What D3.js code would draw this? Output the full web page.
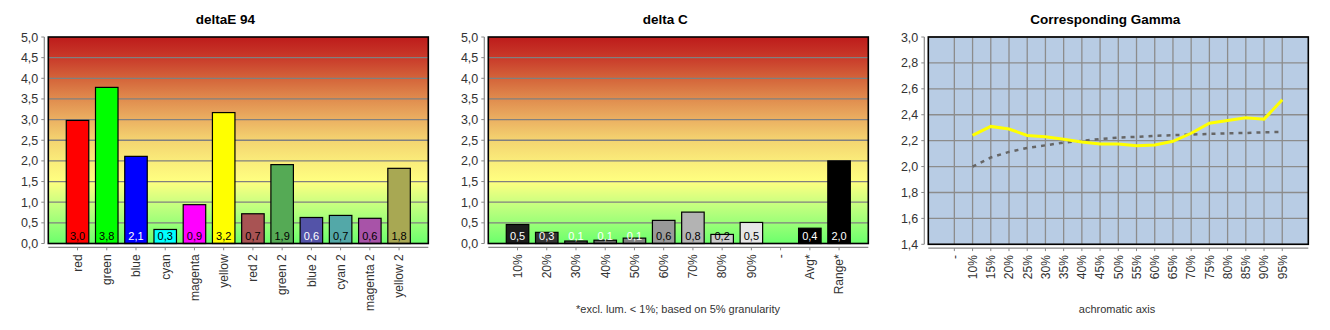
<!DOCTYPE html>
<html><head><meta charset="utf-8">
<script src="https://cdn.jsdelivr.net/npm/d3@7"></script>
<style>
body{margin:0;background:#fff}
text{font-family:"Liberation Sans",Arial,sans-serif}
</style>
</head><body>
<svg id="c" width="1330" height="330"></svg>
<script>
// ---------- data ----------
const deltaETitle = "deltaE 94";
const deltaECategories = ["red","green","blue","cyan","magenta","yellow","red 2","green 2","blue 2","cyan 2","magenta 2","yellow 2"];
const deltaEValues = [2.98, 3.78, 2.11, 0.34, 0.94, 3.17, 0.72, 1.91, 0.63, 0.68, 0.61, 1.82];
const deltaEColors = ["#ff0000","#00ff00","#0000ff","#00ffff","#ff00ff","#ffff00","#a85353","#55aa55","#5353a8","#53a8a8","#a853a8","#a8a853"];
const deltaELabelColors = ["#000","#000","#fff","#000","#000","#000","#000","#000","#fff","#000","#000","#000"];

const deltaCTitle = "delta C";
const deltaCCategories = ["10%","20%","30%","40%","50%","60%","70%","80%","90%","-","Avg*","Range*"];
const deltaCValues = [0.46, 0.27, 0.06, 0.08, 0.13, 0.56, 0.76, 0.22, 0.51, null, 0.37, 2.0];
const deltaCColors = ["#1c1c1c","#333333","#4d4d4d","#666666","#808080","#999999","#b3b3b3","#cccccc","#e6e6e6","#000000","#000000","#000000"];
const deltaCLabelColors = ["#fff","#fff","#fff","#fff","#fff","#000","#000","#000","#000","#fff","#fff","#fff"];
const deltaCNote = "*excl. lum. < 1%; based on 5% granularity";

const barTicks = [0,0.5,1,1.5,2,2.5,3,3.5,4,4.5,5];

const gammaTitle = "Corresponding Gamma";
const gammaCategories = ["-","10%","15%","20%","25%","30%","35%","40%","45%","50%","55%","60%","65%","70%","75%","80%","85%","90%","95%"];
const gammaMeasured = [null, 2.24, 2.31, 2.29, 2.24, 2.23, 2.21, 2.19, 2.175, 2.175, 2.16, 2.167, 2.195, 2.257, 2.334, 2.355, 2.376, 2.366, 2.515];
const gammaTarget = [null, 2.0, 2.07, 2.113, 2.144, 2.164, 2.185, 2.198, 2.213, 2.224, 2.229, 2.237, 2.242, 2.247, 2.252, 2.257, 2.259, 2.265, 2.267];
const gammaTicks = [1.4,1.6,1.8,2.0,2.2,2.4,2.6,2.8,3.0];
const gammaXLabel = "achromatic axis";

// ---------- layout ----------
const svg = d3.select("#c");
const plotTop = 37, plotBottom = 243.5, plotW = 380;
const fmt = v => d3.format(".1f")(v).replace(".", ",");

const defs = svg.append("defs");
const grad = defs.append("linearGradient").attr("id","bg").attr("x1",0).attr("y1",0).attr("x2",0).attr("y2",1);
[[0,"#bd1b1b"],[0.1,"#c93a2a"],[0.2,"#d4643a"],[0.3,"#e08c4e"],[0.4,"#ebb062"],[0.5,"#f4d470"],[0.6,"#faec7a"],[0.7,"#ffff80"],[0.8,"#ccff80"],[0.9,"#9cff78"],[1,"#6cff6c"]]
  .forEach(([o,c]) => grad.append("stop").attr("offset",o).attr("stop-color",c));

function yAxis(g, x0, y, ticks, bot) {
  g.append("line").attr("x1",x0-4).attr("x2",x0-4).attr("y1",plotTop).attr("y2",bot)
    .attr("stroke","#888").attr("stroke-width",1.2);
  ticks.forEach(t => {
    g.append("line").attr("x1",x0-7).attr("x2",x0-4).attr("y1",y(t)).attr("y2",y(t)).attr("stroke","#888");
    g.append("text").attr("x",x0-10).attr("y",y(t)).attr("dy","0.36em").attr("text-anchor","end")
      .attr("font-size",12.5).attr("fill","#333").text(fmt(t));
  });
}
function xAxis(g, x0, x, cats, bot) {
  const ay = bot + 3.8;
  g.append("line").attr("x1",x0).attr("x2",x0+plotW).attr("y1",ay).attr("y2",ay).attr("stroke","#888").attr("stroke-width",1.2);
  cats.forEach(c => {
    g.append("line").attr("x1",x(c)).attr("x2",x(c)).attr("y1",ay).attr("y2",ay+3).attr("stroke","#888");
    g.append("text").attr("transform",`translate(${x(c)},${ay+7}) rotate(-90)`)
      .attr("dy","0.36em").attr("text-anchor","end").attr("font-size",12).attr("fill","#333").text(c);
  });
}
function title(g, cx, t) {
  g.append("text").attr("x",cx).attr("y",24).attr("text-anchor","middle")
    .attr("font-size",13.5).attr("font-weight","bold").attr("fill","#000").text(t);
}

function barChart(ox, ttl, cats, vals, cols, lcols, note) {
  const g = svg.append("g");
  const x0 = ox + 48.3;
  const x = d3.scalePoint().domain(cats).range([x0, x0+plotW]).padding(1);
  const y = d3.scaleLinear().domain([0,5]).range([plotBottom, plotTop]);
  const bw = x.step()*0.77;
  title(g, x0 + plotW/2 - 13, ttl);
  g.append("rect").attr("x",x0).attr("y",plotTop).attr("width",plotW).attr("height",plotBottom-plotTop).attr("fill","url(#bg)");
  barTicks.slice(1,-1).forEach(t => g.append("line").attr("x1",x0).attr("x2",x0+plotW).attr("y1",y(t)).attr("y2",y(t)).attr("stroke","#808080").attr("stroke-width",1.3));
  cats.forEach((c,i) => {
    if (vals[i] == null) return;
    g.append("rect").attr("x",x(c)-bw/2).attr("y",y(vals[i])).attr("width",bw).attr("height",plotBottom-y(vals[i]))
      .attr("fill",cols[i]).attr("stroke","#000").attr("stroke-width",1.2);
  });
  cats.forEach((c,i) => {
    if (vals[i] == null) return;
    g.append("text").attr("x",x(c)).attr("y",plotBottom-4).attr("text-anchor","middle").attr("font-size",11)
      .attr("fill",lcols[i]).text(fmt(vals[i]));
  });
  g.append("rect").attr("x",x0).attr("y",plotTop).attr("width",plotW).attr("height",plotBottom-plotTop)
    .attr("fill","none").attr("stroke","#000").attr("stroke-width",1.6);
  yAxis(g, x0, y, barTicks, plotBottom);
  xAxis(g, x0, x, cats, plotBottom);
  if (note) g.append("text").attr("x",ox+238).attr("y",313).attr("text-anchor","middle").attr("font-size",11).attr("fill","#333").text(note);
}

barChart(0, deltaETitle, deltaECategories, deltaEValues, deltaEColors, deltaELabelColors, null);
barChart(440, deltaCTitle, deltaCCategories, deltaCValues, deltaCColors, deltaCLabelColors, deltaCNote);

// gamma chart
(function(){
  const ox = 880;
  const g = svg.append("g");
  const x0 = ox + 48.3;
  const gb = 244.3;
  const x = d3.scalePoint().domain(gammaCategories).range([x0, x0+plotW]).padding(1.43);
  const y = d3.scaleLinear().domain([1.4,3.0]).range([gb, plotTop]);
  title(g, x0 + plotW/2 - 13, gammaTitle);
  g.append("rect").attr("x",x0).attr("y",plotTop).attr("width",plotW).attr("height",gb-plotTop).attr("fill","#b8cce4");
  gammaTicks.forEach(t => g.append("line").attr("x1",x0).attr("x2",x0+plotW).attr("y1",y(t)).attr("y2",y(t)).attr("stroke","#8c8c8c").attr("stroke-width",1.3));
  gammaCategories.forEach(c => g.append("line").attr("x1",x(c)).attr("x2",x(c)).attr("y1",plotTop).attr("y2",gb).attr("stroke","#8c8c8c").attr("stroke-width",1.3));
  const line = d3.line().defined(d => d.v != null).x(d => x(d.c)).y(d => y(d.v));
  g.append("path").datum(gammaCategories.map((c,i)=>({c, v: gammaTarget[i]})))
    .attr("d", line).attr("fill","none").attr("stroke","#666").attr("stroke-width",2.5).attr("stroke-dasharray","4,5");
  g.append("path").datum(gammaCategories.map((c,i)=>({c, v: gammaMeasured[i]})))
    .attr("d", line).attr("fill","none").attr("stroke","#ffff00").attr("stroke-width",3);
  g.append("rect").attr("x",x0).attr("y",plotTop).attr("width",plotW).attr("height",gb-plotTop)
    .attr("fill","none").attr("stroke","#000").attr("stroke-width",1.6);
  yAxis(g, x0, y, gammaTicks, gb);
  xAxis(g, x0, x, gammaCategories, gb);
  g.append("text").attr("x",ox+237).attr("y",313).attr("text-anchor","middle").attr("font-size",11).attr("fill","#333").text(gammaXLabel);
})();
</script>
</body></html>
